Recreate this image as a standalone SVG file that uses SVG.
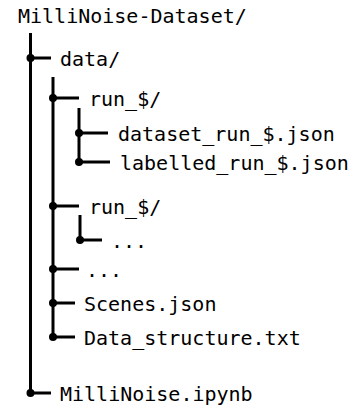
<svg xmlns="http://www.w3.org/2000/svg" width="354" height="406" viewBox="0 0 354 406">
<style>
text{font-family:"DejaVu Sans Mono","Liberation Mono",monospace;font-size:20px;fill:#000}
.ln{stroke:#000;stroke-width:3;fill:none}
.dot{fill:#000}
</style>
<rect width="354" height="406" fill="#fff"/>
<g id="connectors">
<path class="ln" d="M30.5 33V393H51"/>
<path class="ln" d="M30.5 58H51"/>
<path class="ln" d="M53 77V337H75"/>
<path class="ln" d="M53 98H79M53 206H79M53 269H79M53 303H75"/>
<path class="ln" d="M79 108V162H110M79 133H108"/>
<path class="ln" d="M80 215V240H102"/>
<circle class="dot" cx="30.5" cy="58" r="4"/>
<circle class="dot" cx="30.5" cy="393" r="4"/>
<circle class="dot" cx="53" cy="98" r="4"/>
<circle class="dot" cx="53" cy="206" r="4"/>
<circle class="dot" cx="53" cy="269" r="4"/>
<circle class="dot" cx="53" cy="303" r="4"/>
<circle class="dot" cx="53" cy="337" r="4"/>
<circle class="dot" cx="79" cy="133" r="4"/>
<circle class="dot" cx="79" cy="162" r="4"/>
<circle class="dot" cx="80" cy="240" r="4"/>
</g>
<g id="root"><text x="18" y="23">MilliNoise-Dataset/</text></g>
<g id="data"><text x="60" y="65.5">data/</text></g>
<g id="run1"><text x="89" y="105.5">run_$/</text></g>
<g id="dataset_run"><text x="118" y="140.5">dataset_run_$.json</text></g>
<g id="labelled_run"><text x="120" y="169.5">labelled_run_$.json</text></g>
<g id="run2"><text x="89" y="213.5">run_$/</text></g>
<g id="run2_more"><text x="111" y="247.5">...</text></g>
<g id="data_more"><text x="86" y="276.5">...</text></g>
<g id="scenes"><text x="84" y="310.5">Scenes.json</text></g>
<g id="data_structure"><text x="84" y="344.5">Data_structure.txt</text></g>
<g id="ipynb"><text x="60" y="400.5">MilliNoise.ipynb</text></g>
</svg>
